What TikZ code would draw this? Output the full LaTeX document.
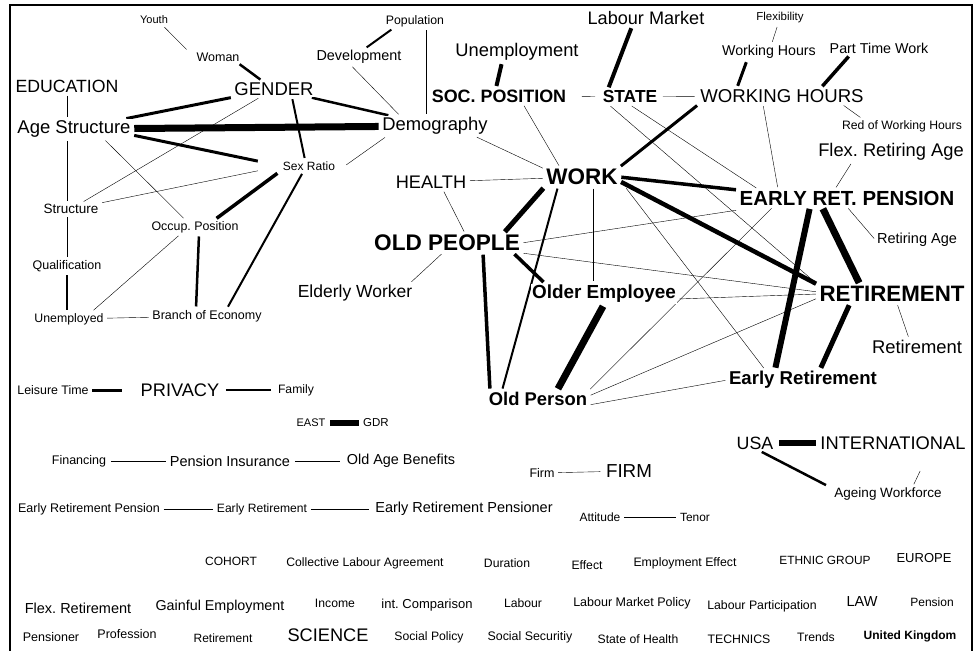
\documentclass[tikz,border=0pt]{standalone}
\usepackage{fontspec}
\setmainfont{Liberation Sans}
\frenchspacing
\usetikzlibrary{backgrounds}
\begin{document}
\begin{tikzpicture}[x=1pt,y=-1pt,
  every node/.style={fill=white,inner sep=1.5pt},
  fs/.style={font=\fontsize{#1}{#1}\selectfont},
  fb/.style={font=\fontsize{#1}{#1}\selectfont\bfseries},
  lw/.style={line width=#1}]
\useasboundingbox (0,0) rectangle (978,651);
\draw[lw=2] (10,651) -- (10,5) -- (972,5) -- (972,651);
\node[fs=11] (YOUTH) at (154,20) {Youth};
\node[fs=12.5] (WOMAN) at (218,57) {Woman};
\node[fs=17.7] (EDU) at (67,86) {EDUCATION};
\node[fs=18.5] (GEN) at (274,89) {GENDER};
\node[fs=18.5] (AGE) at (74,129) {Age Structure};
\node[fs=12] (SEX) at (309,166) {Sex Ratio};
\node[fs=13.5] (STRUCT) at (71,209) {Structure};
\node[fs=12.4] (OCC) at (195,227) {Occup. Position};
\node[fs=12.5] (QUAL) at (67,266) {Qualification};
\node[fs=12.3] (UNEMPL) at (69,319) {Unemployed};
\node[fs=12.5] (BRANCH) at (207,316) {Branch of Economy};
\node[fs=12.4] (LEIS) at (53,390) {Leisure Time};
\node[fs=18.2] (PRIV) at (180,390) {PRIVACY};
\node[fs=12.2] (FAM) at (296,390) {Family};
\node[fs=17.5] (EW) at (355,293) {Elderly Worker};
\node[fs=12.3] (POP) at (415,21) {Population};
\node[fs=14.4] (DEV) at (359,57) {Development};
\node[fs=18.3] (UNEMP) at (517,52) {Unemployment};
\node[fb=17.9] (SOC) at (499,96) {SOC. POSITION};
\node[fs=18.4] (DEM) at (435,126) {Demography};
\node[fs=18.2] (HEALTH) at (431,182) {HEALTH};
\node[fb=22.5] (WORK) at (582,177) {WORK};
\node[fs=18.1] (LM) at (646,18) {Labour Market};
\node[fb=17.4] (STATE) at (630,97) {STATE};
\node[fs=11.5] (FLEXI) at (780,18) {Flexibility};
\node[fs=14.2] (WHS) at (769,52) {Working Hours};
\node[fs=14.3] (PTW) at (879,48) {Part Time Work};
\node[fs=18.6] (WH) at (782,96) {WORKING HOURS};
\node[fs=12.2] (RWH) at (902,126) {Red of Working Hours};
\node[fs=18.3] (FRA) at (891,152) {Flex. Retiring Age};
\node[fb=20.4] (ERP) at (847,198) {EARLY RET. PENSION};
\node[fs=14.5] (RA) at (917,240) {Retiring Age};
\node[fb=22.3] (RET) at (892,294) {RETIREMENT};
\node[fs=18.4] (RETS) at (917,347) {Retirement};
\node[fb=18.6] (ER) at (803,380) {Early Retirement};
\node[fb=22.6] (OLDP) at (447,243) {OLD PEOPLE};
\node[fb=18.9] (OEMP) at (604,294) {Older Employee};
\node[fb=18.4] (OPERS) at (538,399) {Old Person};
\node[fs=11] (EAST) at (311,423) {EAST};
\node[fs=11.5] (GDR) at (376,423) {GDR};
\node[fs=12.5] (FIN) at (79,461) {Financing};
\node[fs=14.5] (PI) at (230,461) {Pension Insurance};
\node[fs=14.4] (OAB) at (401,461) {Old Age Benefits};
\node[fs=12.5] (ERPN) at (89,509) {Early Retirement Pension};
\node[fs=12.1] (ERS) at (262,509) {Early Retirement};
\node[fs=14.5] (ERPR) at (464,509) {Early Retirement Pensioner};
\node[fs=12.5] (FIRMS) at (542,473) {Firm};
\node[fs=18.8] (FIRM) at (629,471) {FIRM};
\node[fs=17.8] (USA) at (755,443) {USA};
\node[fs=18.3] (INT) at (893,443) {INTERNATIONAL};
\node[fs=13.5] (AW) at (888,494) {Ageing Workforce};
\node[fs=12] (ATT) at (600,517) {Attitude};
\node[fs=11.9] (TEN) at (695,517) {Tenor};
\node[fs=12] (COH) at (231,561) {COHORT};
\node[fs=12.2] (CLA) at (365,563) {Collective Labour Agreement};
\node[fs=12.2] (DUR) at (507,563) {Duration};
\node[fs=12.2] (EFF) at (587,565) {Effect};
\node[fs=12.3] (EMPE) at (685,563) {Employment Effect};
\node[fs=11.9] (ETH) at (825,560) {ETHNIC GROUP};
\node[fs=13] (EUR) at (924,558) {EUROPE};
\node[fs=14.5] (FLR) at (78,608) {Flex. Retirement};
\node[fs=14.3] (GEMP) at (220,607) {Gainful Employment};
\node[fs=12.2] (INC) at (335,603) {Income};
\node[fs=13] (INTC) at (427,605) {int. Comparison};
\node[fs=12.2] (LAB) at (523,603) {Labour};
\node[fs=12.5] (LMP) at (632,603) {Labour Market Policy};
\node[fs=12.3] (LPART) at (762,606) {Labour Participation};
\node[fs=14.5] (LAW) at (862,602) {LAW};
\node[fs=12] (PENS) at (932,602) {Pension};
\node[fs=12.5] (PNR) at (51,637) {Pensioner};
\node[fs=12.5] (PROF) at (127,634) {Profession};
\node[fs=12] (RETB) at (223,638) {Retirement};
\node[fs=18.2] (SCI) at (328,635) {SCIENCE};
\node[fs=12.2] (SPOL) at (429,637) {Social Policy};
\node[fs=12.4] (SSEC) at (530,637) {Social Securitiy};
\node[fs=12.2] (SOH) at (638,639) {State of Health};
\node[fs=12.3] (TECH) at (739,639) {TECHNICS};
\node[fs=12.2] (TRE) at (816,637) {Trends};
\node[fb=12] (UK) at (910,636) {United Kingdom};
\begin{scope}[on background layer,line width=1.2pt,shorten <=2pt,shorten >=2pt]
\draw ([xshift=9pt]YOUTH.south) -- ([xshift=-30pt]WOMAN.north);
\draw[lw=2.5] ([xshift=20pt]WOMAN.south) -- ([xshift=-12pt]GEN.north);
\draw (EDU) -- (EDU.south |- AGE.north);
\draw[lw=3] (GEN) -- (AGE);
\draw[lw=7] (AGE) -- (DEM);
\draw[lw=2.5] (GEN) -- (DEM);
\draw (GEN) -- (STRUCT);
\draw[lw=2] ([xshift=18pt]GEN.south) -- ([xshift=-4pt]SEX.north);
\draw[lw=3,shorten >=24pt] ([yshift=-6pt]AGE.east) -- (SEX.west);
\draw[shorten >=24pt] (STRUCT) -- (SEX.west);
\draw ([xshift=30pt]AGE.south) -- ([xshift=-10pt]OCC.north);
\draw (AGE.south -| QUAL) -- (STRUCT.north -| QUAL);
\draw[lw=3.5] ([xshift=-30pt]SEX.south) -- ([xshift=20pt]OCC.north);
\draw[lw=2] ([xshift=-6pt]SEX.south) -- ([xshift=20pt]BRANCH.north);
\draw ([xshift=6pt]DEM.south west) -- ([xshift=8pt]SEX.east);
\draw ([xshift=-8pt]DEV.south) -- ([xshift=-35pt]DEM.north);
\draw[lw=2] ([xshift=6pt]DEV.north) -- ([xshift=-22pt]POP.south);
\draw ([xshift=11pt]POP.south) -- ([xshift=11pt]POP.south |- DEM.north);
\draw[lw=4] ([xshift=-15pt]UNEMP.south) -- ([xshift=-3pt]SOC.north);
\draw[shorten <=14pt,shorten >=6pt] (SOC) -- (STATE);
\draw ([xshift=24pt]SOC.south) -- ([xshift=-22pt]WORK.north);
\draw ([xshift=40pt]DEM.south) -- ([yshift=8pt]WORK.west);
\draw (HEALTH) -- (WORK);
\draw[lw=4] ([xshift=-14pt]LM.south) -- ([xshift=-22pt]STATE.north);
\draw[shorten <=4pt,shorten >=4pt] (STATE) -- (WH);
\draw (FLEXI) -- (WHS);
\draw[lw=3] ([xshift=-22pt]WHS.south) -- ([xshift=-45pt]WH.north);
\draw[lw=3.5] ([xshift=-29pt]PTW.south) -- ([xshift=39pt]WH.north);
\draw ([xshift=60pt]WH.south) -- ([xshift=-40pt]RWH.north);
\draw ([xshift=-19pt]WH.south) -- ([xshift=-69pt]ERP.north);
\draw ([xshift=-39pt]FRA.south) -- ([xshift=-12pt]ERP.north);
\draw[lw=3] (WH.south west) -- (WORK.north east);
\draw (STATE.south) -- ([xshift=20pt]ERP.north west);
\draw ([xshift=-21pt]STATE.south) -- (RET.north west);
\draw[lw=3.5] (WORK.east) -- ([yshift=8pt]ERP.west);
\draw[lw=4.5] ([yshift=-4pt]WORK.east) -- (RET.north west);
\draw[lw=5] (WORK.south west) -- ([xshift=-18pt]OLDP.north east);
\draw[lw=2] ([xshift=-24pt]WORK.south) -- ([xshift=-36pt]OPERS.north);
\draw ([xshift=11pt]WORK.south) -- ([xshift=-11pt]OEMP.north);
\draw ([xshift=43pt]WORK.south) -- ([xshift=-38pt]ER.north);
\draw ([xshift=12pt]HEALTH.south) -- ([xshift=18pt]OLDP.north);
\draw ([xshift=-4pt]OLDP.south) -- ([xshift=55pt]EW.north);
\draw[lw=3.5] ([xshift=36pt]OLDP.south) -- ([xshift=-48pt]OPERS.north);
\draw[lw=3.5] ([xshift=66pt]OLDP.south) -- ([xshift=-59pt]OEMP.north);
\draw (OLDP.east) -- ([yshift=-12pt]ERP.west);
\draw ([yshift=-10pt]OLDP.east) -- ([yshift=2pt]RET.west);
\draw[lw=7] (OEMP.south) -- ([xshift=19pt]OPERS.north);
\draw ([yshift=-5pt]OEMP.east) -- (RET.west);
\draw (OPERS.north east) -- ([xshift=-74pt]ERP.south);
\draw ([yshift=3pt]OPERS.east) -- ([yshift=-4pt]RET.west);
\draw ([yshift=-6pt]OPERS.east) -- (ER.west);
\draw[lw=6] ([xshift=-37pt]ERP.south) -- ([xshift=-28pt]ER.north);
\draw[lw=7] ([xshift=-25pt]ERP.south) -- ([xshift=-32pt]RET.north);
\draw (ERP.south) -- (RA.west);
\draw[lw=5] ([xshift=17pt]ER.north) -- ([xshift=-42pt]RET.south);
\draw ([xshift=5pt]RET.south) -- ([xshift=-8pt]RETS.north);
\draw[lw=3,shorten >=17pt] (LEIS) -- (PRIV);
\draw[lw=2,shorten <=5pt,shorten >=5pt] (PRIV) -- (FAM);
\draw[lw=6,shorten <=3pt,shorten >=3pt] (EAST) -- (GDR);
\draw[shorten <=3pt] (FIN) -- (PI);
\draw[shorten <=3pt,shorten >=5pt] (PI) -- (OAB);
\draw (ERPN) -- (ERS);
\draw[shorten >=5pt] (ERS) -- (ERPR);
\draw[shorten >=4pt] (FIRMS) -- (FIRM);
\draw (ATT) -- (TEN);
\draw[lw=6,shorten <=4pt,shorten >=3pt] (USA) -- (INT);
\draw[lw=2.5] ([xshift=5pt]USA.south) -- ([xshift=-5pt]AW.north west);
\draw ([xshift=28pt,yshift=-18pt]INT.south) -- ([xshift=25pt]AW.north);
\draw (STRUCT.south -| QUAL) -- (QUAL);
\draw[lw=1.5] (QUAL) -- (QUAL |- UNEMPL.north);
\draw (UNEMPL) -- (BRANCH);
\draw ([xshift=-15pt]OCC.south) -- ([xshift=23pt]UNEMPL.north);
\draw[lw=2.5] ([xshift=4pt]OCC.south) -- ([xshift=-11pt]BRANCH.north);
\end{scope}
\end{tikzpicture}
\end{document}
